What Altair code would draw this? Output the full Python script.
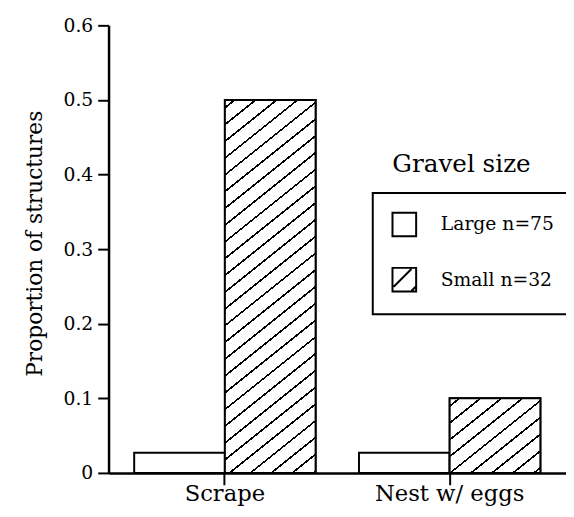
import math
import altair as alt
import pandas as pd

# ---- data ----
structures = ["Scrape", "Nest w/ eggs"]
gravel = ["Large n=75", "Small n=32"]
large_vals = [0.027, 0.027]
small_vals = [0.5, 0.1]
y_ticks = [0, 0.1, 0.2, 0.3, 0.4, 0.5, 0.6]

rows = []
for s, lv, sv in zip(structures, large_vals, small_vals):
    rows.append({"structure": s, "gravel": gravel[0], "prop": lv})
    rows.append({"structure": s, "gravel": gravel[1], "prop": sv})
df = pd.DataFrame(rows)

# ---- layout constants ----
W, H = 464, 454
YMAX = 0.6
P_IN, P_OUT = 0.193, 0.114
FONT = "DejaVu Serif"

step = W / (2 - P_IN + 2 * P_OUT)
bar_w = step * (1 - P_IN) / 2


def hatch(w, h, a=0.8, b=1.0, period=17.0, lw=1.7, phase=8.0):
    """Diagonal hatch as a striped linear gradient (bounding-box units)."""
    total = a * w + b * h
    k = total / (a * a * w * w + b * b * h * h)
    half = lw * math.hypot(a, b) / 2
    stops = [alt.GradientStop(offset=0, color="white")]
    c = phase
    while c - half < total:
        s0 = max(0.0, (c - half) / total)
        s1 = min(1.0, (c + half) / total)
        stops += [
            alt.GradientStop(offset=s0, color="white"),
            alt.GradientStop(offset=s0, color="black"),
            alt.GradientStop(offset=s1, color="black"),
            alt.GradientStop(offset=s1, color="white"),
        ]
        c += period
    stops.append(alt.GradientStop(offset=1, color="white"))
    return alt.LinearGradient(gradient="linear", x1=0, y1=0,
                              x2=a * w * k, y2=b * h * k, stops=stops)


x_enc = alt.X("structure:N", sort=structures,
              scale=alt.Scale(domain=structures, paddingInner=P_IN, paddingOuter=P_OUT),
              axis=alt.Axis(title=None, labelAngle=0, tickSize=12, tickWidth=2,
                            domainWidth=2.5, labelFontSize=23, labelPadding=-2,
                            labelFont=FONT, labelColor="black"))
xo_enc = alt.XOffset("gravel:N", scale=alt.Scale(domain=gravel, paddingInner=0, paddingOuter=0))
y_enc = alt.Y("prop:Q",
              scale=alt.Scale(domain=[0, YMAX], nice=False, zero=True),
              axis=alt.Axis(title="Proportion of structures", values=y_ticks, format=".1~f",
                            grid=False, tickSize=11, tickWidth=2, domainWidth=2.5,
                            labelPadding=5, labelFontSize=19, labelFont=FONT,
                            titleFont=FONT, titleFontSize=22, titleFontWeight="normal",
                            titleX=-75, titleY=H / 2 - 6, titleBaseline="middle",
                            titleColor="black", labelColor="black"))

base = alt.Chart(df)

bars = base.mark_bar(fill="white", stroke="black", strokeWidth=2).encode(
    x=x_enc, xOffset=xo_enc, y=y_enc)

hatch_layers = []
for s, sv in zip(structures, small_vals):
    h_px = sv / YMAX * H
    hatch_layers.append(
        base.transform_filter(
            (alt.datum.structure == s) & (alt.datum.gravel == gravel[1])
        ).mark_bar(fill=hatch(bar_w, h_px), stroke="black", strokeWidth=2).encode(
            x=x_enc, xOffset=xo_enc, y=y_enc)
    )

legend_pts = base.mark_point(color="black", opacity=0, strokeWidth=2).encode(
    x=x_enc, xOffset=xo_enc, y=y_enc,
    shape=alt.Shape("gravel:N",
                    scale=alt.Scale(domain=gravel,
                                    range=["M-1,-1H1V1H-1Z",
                                           "M-1,-1H1V1H-1Z M-0.9,0.6L0.6,-0.9 M0.6,0.95L0.95,0.6"]),
                    legend=alt.Legend(title=None, orient="none", legendX=268, legendY=170,
                                      strokeColor="black", padding=19,
                                      symbolSize=576, symbolStrokeWidth=2,
                                      symbolStrokeColor="black", symbolFillColor="white",
                                      symbolOpacity=1, labelFont=FONT, labelFontSize=19,
                                      labelColor="black", labelOffset=24, rowPadding=24,
                                      labelLimit=400,
                                      labelExpr="datum.label + '\u00a0\u00a0\u00a0\u00a0\u00a0'")))

title_df = pd.DataFrame({"t": ["Gravel size"]})
legend_title = alt.Chart(title_df).mark_text(
    font=FONT, fontSize=25, align="center", baseline="middle", color="black"
).encode(text="t:N", x=alt.value(358), y=alt.value(141))

chart = alt.layer(bars, *hatch_layers, legend_pts, legend_title).properties(
    width=W, height=H,
    autosize=alt.AutoSizeParams(type="none"),
    padding={"left": 102, "top": 14, "right": 0, "bottom": 33},
).configure_view(stroke=None).configure_axis(
    domainColor="black", tickColor="black"
).configure_legend(strokeWidth=2)

chart.save("out.html", embed_options={"renderer": "svg", "actions": False})
